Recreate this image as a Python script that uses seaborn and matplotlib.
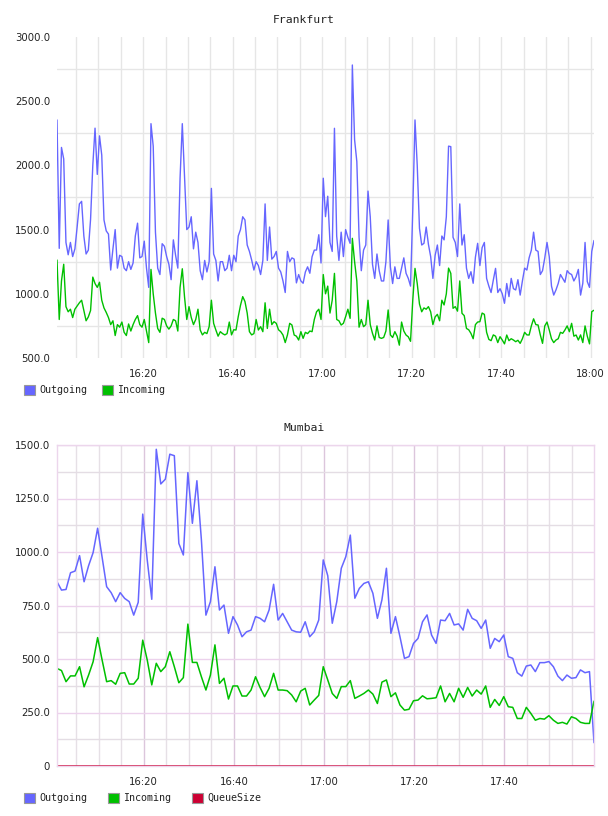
import numpy as np
import pandas as pd
import seaborn as sns
import matplotlib.pyplot as plt
import matplotlib.dates as mdates
from matplotlib.patches import Patch

# ---- Frankfurt: one sample every 30 s ----
fra_start = '2024-01-01 16:00:45'
fra_out = [
    2354, 1354, 2140, 2050, 1400, 1304, 1400, 1290, 1350, 1520, 1700, 1720, 1450, 1310, 1340, 1580,
    2000, 2290, 1930, 2230, 2080, 1575, 1490, 1465, 1185, 1350, 1500, 1200, 1300, 1290, 1200, 1180,
    1250, 1190, 1240, 1450, 1550, 1280, 1290, 1410, 1200, 1050, 2325, 2150, 1480, 1200, 1150, 1390,
    1370, 1290, 1230, 1110, 1420, 1300, 1200, 1900, 2325, 1910, 1500, 1520, 1600, 1350,
    1480, 1400, 1180, 1110, 1260, 1170, 1250, 1821, 1310, 1260, 1100, 1250, 1250, 1180, 1200, 1300,
    1180, 1300, 1250, 1450, 1500, 1600, 1575, 1380, 1330, 1263, 1185, 1250, 1220, 1150, 1260, 1700,
    1260, 1520, 1270, 1290, 1330, 1200, 1170, 1100, 1010, 1330, 1250, 1280, 1270, 1085, 1150, 1100,
    1082, 1170, 1210, 1160, 1289, 1340, 1341, 1460, 1240, 1900, 1601, 1760, 1400,
    1330, 2289, 1450, 1260, 1480, 1290, 1500, 1440, 1393, 2782, 2200, 2030, 1440, 1180, 1340, 1380,
    1800, 1600, 1230, 1120, 1310, 1180, 1100, 1100, 1250, 1575, 1210, 1080, 1210, 1120, 1120, 1200,
    1280, 1160, 1120, 1060, 1650, 2354, 2000, 1510, 1380, 1393, 1520, 1385, 1290, 1120, 1300, 1380,
    1220, 1450, 1420, 1600, 2150, 2146, 1440, 1400, 1290, 1700, 1380, 1460,
    1200, 1120, 1172, 1082, 1285, 1393, 1220, 1360, 1400, 1120, 1060, 1010, 1107, 1198, 1010, 1040,
    1000, 926, 1080, 978, 1120, 1040, 1030, 1110, 990, 1100, 1200, 1185, 1280, 1340, 1480, 1340,
    1330, 1150, 1180, 1280, 1400, 1289, 1060, 990, 1030, 1080, 1150, 1120, 1090, 1180, 1159, 1150,
    1100, 1133, 1190, 990, 1082, 1400, 1095, 1050, 1330, 1415,
]
fra_in = [
    1263, 800, 1100, 1230, 900, 860, 880, 815, 880, 905, 930, 950, 870, 790, 820, 870,
    1130, 1080, 1050, 1090, 950, 890, 855, 815, 760, 790, 675, 760, 740, 780, 700, 675,
    765, 710, 760, 800, 830, 760, 740, 800, 710, 620, 1190, 1000, 850, 730, 700, 810,
    800, 750, 725, 750, 800, 790, 710, 1050, 1195, 975, 800, 900, 815, 760,
    800, 880, 718, 680, 700, 690, 744, 950, 770, 718, 670, 705, 690, 680, 690, 780,
    680, 720, 718, 822, 910, 978, 940, 850, 705, 680, 690, 800, 718, 744, 705, 930,
    730, 880, 760, 783, 770, 720, 705, 679, 620, 680, 770, 757, 679, 670, 640, 705,
    653, 700, 690, 710, 705, 800, 860, 880, 800, 1150, 1000, 1060, 850,
    950, 1159, 800, 790, 757, 770, 822, 880, 809, 1432, 1250, 1100, 740, 800, 744, 760,
    950, 760, 692, 640, 750, 660, 653, 660, 710, 874, 680, 660, 705, 670, 600, 780,
    710, 679, 665, 630, 950, 1198, 1080, 920, 860, 890, 880, 900, 860, 760, 820, 840,
    790, 950, 913, 1000, 1200, 1159, 887, 900, 865, 1100, 848, 830,
    730, 720, 692, 650, 760, 780, 783, 850, 840, 700, 645, 635, 680, 670, 620, 666,
    640, 610, 679, 635, 650, 640, 627, 638, 614, 650, 700, 680, 679, 750, 805, 760,
    757, 680, 614, 750, 780, 718, 650, 620, 640, 650, 700, 692, 718, 750, 705, 770,
    670, 679, 640, 680, 620, 750, 670, 610, 861, 872,
]

# ---- Mumbai: 120 samples between start and end ----
mum_start = '2024-01-01 16:00:45'
mum_end = '2024-01-01 17:59:55'
mum_out = [
    861, 822, 825, 903, 911, 983, 861, 936, 997, 1111,
    975, 838, 810, 768, 810, 783, 768, 705, 765, 1177,
    962, 779, 1480, 1318, 1340, 1457, 1450, 1040, 986, 1371,
    1134, 1333, 1056, 705, 768, 931, 729, 752, 620, 698,
    659, 604, 627, 635, 698, 690, 674, 729, 849, 682,
    713, 674, 635, 627, 625, 674, 604, 627, 682, 963,
    889, 667, 768, 924, 978, 1079, 784, 830, 853, 861,
    807, 690, 776, 924, 620, 698, 604, 503, 511, 573,
    596, 674, 706, 612, 573, 682, 679, 713, 659, 664,
    635, 732, 690, 679, 643, 682, 550, 596, 581, 612,
    511, 503, 436, 420, 467, 472, 441, 483, 483, 488,
    464, 420, 399, 425, 410, 413, 449, 436, 441, 109,
]
mum_in = [
    456, 446, 394, 421, 421, 464, 370, 425, 487, 600,
    495, 394, 399, 382, 433, 436, 383, 383, 410, 588,
    495, 379, 480, 441, 464, 534, 464, 389, 413, 663,
    484, 484, 417, 355, 425, 566, 386, 410, 313, 374,
    374, 327, 327, 355, 417, 367, 324, 363, 433, 355,
    355, 352, 332, 300, 350, 363, 285, 308, 330, 464,
    402, 339, 316, 371, 371, 399, 316, 327, 339, 355,
    336, 292, 392, 402, 324, 342, 285, 261, 265, 305,
    308, 328, 314, 316, 319, 374, 300, 339, 300, 363,
    321, 367, 327, 355, 336, 374, 274, 311, 283, 324,
    277, 274, 222, 222, 274, 246, 214, 222, 219, 235,
    214, 199, 204, 196, 230, 222, 204, 199, 199, 303,
]
mum_queue = [0] * 120

colors = {'Outgoing': '#6666ff', 'Incoming': '#00c000', 'QueueSize': '#cc0033'}

sns.set_style('white')
plt.rcParams['font.family'] = ['DejaVu Sans']
mono = 'DejaVu Sans Mono'
text_col = '#222222'

fig = plt.figure(figsize=(6.08, 8.16), dpi=100)
ax1 = fig.add_axes([57 / 608, 1 - 358 / 816, 537 / 608, 321 / 816])
ax2 = fig.add_axes([57 / 608, 1 - 766 / 816, 537 / 608, 321 / 816])

# long-form frames for seaborn
fra_time = pd.date_range(fra_start, periods=len(fra_out), freq='30s')
fra = pd.concat([
    pd.DataFrame({'time': fra_time, 'value': fra_out, 'series': 'Outgoing'}),
    pd.DataFrame({'time': fra_time, 'value': fra_in, 'series': 'Incoming'}),
])
mum_time = pd.date_range(mum_start, mum_end, periods=len(mum_out))
mum = pd.concat([
    pd.DataFrame({'time': mum_time, 'value': mum_out, 'series': 'Outgoing'}),
    pd.DataFrame({'time': mum_time, 'value': mum_in, 'series': 'Incoming'}),
    pd.DataFrame({'time': mum_time, 'value': mum_queue, 'series': 'QueueSize'}),
])

sns.lineplot(data=fra, x='time', y='value', hue='series', palette=colors,
             estimator=None, lw=1.0, legend=False, ax=ax1)
sns.lineplot(data=mum, x='time', y='value', hue='series', palette=colors,
             estimator=None, lw=1.1, legend=False, ax=ax2)

for ax in (ax1, ax2):
    ax.set_xlabel('')
    ax.set_ylabel('')
    ax.xaxis.set_major_locator(mdates.MinuteLocator(byminute=[0, 20, 40]))
    ax.xaxis.set_minor_locator(mdates.MinuteLocator(byminute=range(0, 60, 5)))
    ax.xaxis.set_major_formatter(mdates.DateFormatter('%H:%M'))
    ax.tick_params(which='both', length=0, labelsize=7.3, labelcolor=text_col)
    ax.tick_params(axis='x', pad=8)
    ax.tick_params(axis='y', pad=5)
    ax.set_axisbelow(True)

# Frankfurt styling
ax1.set_xlim(fra_time[0], fra_time[-1])
ax1.set_ylim(500, 3000)
ax1.set_yticks(range(500, 3001, 500))
ax1.set_yticks(range(750, 3000, 500), minor=True)
ax1.yaxis.set_major_formatter('{x:.1f}')
ax1.grid(axis='x', which='both', color='#e6e6e6', lw=1)
ax1.grid(axis='y', which='minor', color='#e6e6e6', lw=1)
for s in ax1.spines.values():
    s.set_visible(False)

# Mumbai styling
ax2.set_xlim(mum_time[0], mum_time[-1])
ax2.set_ylim(0, 1500)
ax2.set_yticks(range(0, 1501, 250))
ax2.set_yticks(range(125, 1500, 250), minor=True)
ax2.yaxis.set_major_formatter(lambda v, p: '0' if v == 0 else f'{v:.1f}')
ax2.grid(axis='x', which='major', color='#dcc6dc', lw=1)
ax2.grid(axis='x', which='minor', color='#e6e0e6', lw=1)
ax2.grid(axis='y', which='major', color='#ecd2ec', lw=1)
ax2.grid(axis='y', which='minor', color='#e4dde4', lw=1)
for s in ax2.spines.values():
    s.set_color('#ecd6ec')
    s.set_linewidth(1)

fig.text(0.5, 1 - 20 / 816, 'Frankfurt', ha='center', va='center',
         family=mono, size=8.2, color=text_col)
fig.text(0.5, 1 - 428 / 816, 'Mumbai', ha='center', va='center',
         family=mono, size=8.2, color=text_col)


def add_legend(names, y_px, spacing):
    handles = [Patch(facecolor=colors[n], edgecolor='#999999', lw=0.8, label=n) for n in names]
    fig.legend(handles=handles, loc='upper left', bbox_to_anchor=(24 / 608, 1 - y_px / 816),
               ncol=len(names), frameon=False, borderpad=0, borderaxespad=0,
               handlelength=1.1, handleheight=1.1, handletextpad=0.4,
               columnspacing=spacing, prop={'family': mono, 'size': 7.2},
               labelcolor=text_col)


add_legend(['Outgoing', 'Incoming'], 385, 1.5)
add_legend(['Outgoing', 'Incoming', 'QueueSize'], 793, 2.1)

fig.savefig('out.png', dpi=100)
